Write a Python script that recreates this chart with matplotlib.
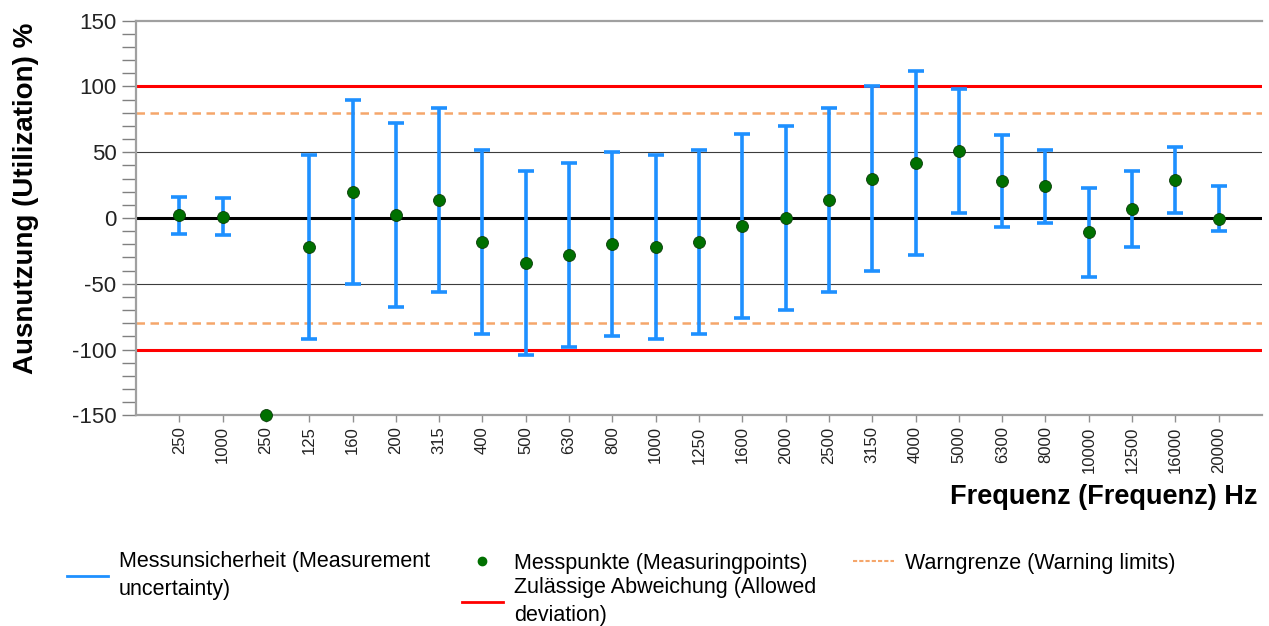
"""
Utilization chart: measuring points with uncertainty bars per frequency band,
allowed deviation and warning limits.
"""

import matplotlib
matplotlib.use("Agg")
import matplotlib.pyplot as plt
from matplotlib.lines import Line2D
from matplotlib.ticker import MultipleLocator
import numpy as np

plt.rcParams['font.family'] = ['Liberation Sans', 'DejaVu Sans']
plt.rcParams['axes.unicode_minus'] = False


# ------------------------------------------------------------------------

FREQ_LABELS = ['250', '1000', '250', '125', '160', '200', '315', '400', '500',
               '630', '800', '1000', '1250', '1600', '2000', '2500', '3150',
               '4000', '5000', '6300', '8000', '10000', '12500', '16000', '20000']

MEASURED = [2, 1, -150, -22, 20, 2, 14, -18, -34, -28, -20, -22, -18, -6, 0,
            14, 30, 42, 51, 28, 24, -11, 7, 29, -1]

UNC_LOWER = [-12, -13, np.nan, -92, -50, -68, -56, -88, -104, -98, -90, -92, -88,
             -76, -70, -56, -40, -28, 4, -7, -4, -45, -22, 4, -10]
UNC_UPPER = [16, 15, np.nan, 48, 90, 72, 84, 52, 36, 42, 50, 48, 52,
             64, 70, 84, 100, 112, 98, 63, 52, 23, 36, 54, 24]

ALLOWED_LIMIT = 100
WARNING_LIMIT = 80

BLUE = '#1E90FF'
GREEN = '#007000'
RED = '#FF0000'
ORANGE = '#F5A66B'
GRAY = '#A0A0A0'


def plot_utilization(write_path: str = "out.png") -> None:
    """
    Draw the chart and save it.
    """
    fig = plt.figure(figsize=(12.69, 6.26), dpi=100)
    ax = fig.add_axes([136 / 1269, 1 - 415.3 / 626, 1126 / 1269, 394.6 / 626])

    x = np.arange(len(FREQ_LABELS))
    measured = np.array(MEASURED, dtype=float)
    lower = np.array(UNC_LOWER, dtype=float)
    upper = np.array(UNC_UPPER, dtype=float)
    has_bar = ~np.isnan(lower)

    # reference lines
    for y in (-50, 50):
        ax.axhline(y, color='#3c3c3c', lw=0.8, zorder=1)
    ax.axhline(0, color='black', lw=2.2, zorder=1)
    for sign in (-1, 1):
        ax.axhline(sign * ALLOWED_LIMIT, color=RED, lw=2.2, zorder=2)
        ax.axhline(sign * WARNING_LIMIT, color=ORANGE, lw=1.8,
                   dashes=(3.4, 2.2), zorder=2)

    yerr = [measured[has_bar] - lower[has_bar], upper[has_bar] - measured[has_bar]]
    ax.errorbar(x[has_bar], measured[has_bar], yerr=yerr, fmt='none',
                ecolor=BLUE, elinewidth=2.6, capsize=6, capthick=2.6, zorder=3)
    ax.plot(x, measured, 'o', color=GREEN, markeredgecolor='#0a3d0a',
            markeredgewidth=0.6, markersize=8.6, clip_on=False, zorder=5)

    ax.set_xlim(-1, len(FREQ_LABELS))
    ax.set_ylim(-150, 150)
    ax.set_xticks(x)
    ax.set_xticklabels(FREQ_LABELS, rotation=90, fontsize=12)
    ax.yaxis.set_major_locator(MultipleLocator(50))
    ax.yaxis.set_minor_locator(MultipleLocator(10))
    ax.tick_params(axis='y', which='both', direction='out', length=10,
                   width=1, color='#808080', pad=4, labelsize=16,
                   labelcolor='#222222')
    ax.tick_params(axis='x', direction='out', length=5, width=1,
                   color='#909090', pad=3, labelcolor='#222222')

    ax.spines['right'].set_visible(False)
    for side in ('left', 'bottom', 'top'):
        ax.spines[side].set_color(GRAY)
        ax.spines[side].set_linewidth(1.6)

    ax.set_ylabel('Ausnutzung (Utilization) %', fontsize=20, fontweight='bold',
                  va='center')
    ax.yaxis.set_label_coords(-0.0978, 0.551)
    ax.set_xlabel('Frequenz (Frequenz) Hz', fontsize=19.5, fontweight='bold',
                  ha='right', va='center')
    ax.xaxis.set_label_coords(0.9956, -0.207)

    # legend, three columns below the plot
    common = dict(frameon=False, loc='upper left', fontsize=15.5, borderpad=0,
                  borderaxespad=0, handlelength=1.9, handletextpad=0.5,
                  labelspacing=0.15)
    legends = [
        fig.legend([Line2D([], [], color=BLUE, lw=2)],
                   ['Messunsicherheit (Measurement\nuncertainty)'],
                   bbox_to_anchor=(67 / 1269, 1 - 551 / 626), **common),
        fig.legend([Line2D([], [], ls='none', marker='o', color=GREEN,
                           markersize=6),
                    Line2D([], [], color=RED, lw=2)],
                   ['Messpunkte (Measuringpoints)',
                    'Zulässige Abweichung (Allowed\ndeviation)'],
                   bbox_to_anchor=(462 / 1269, 1 - 553 / 626), **common),
        fig.legend([Line2D([], [], color=ORANGE, lw=1.5, dashes=(2, 1))],
                   ['Warngrenze (Warning limits)'],
                   bbox_to_anchor=(853 / 1269, 1 - 553 / 626), **common),
    ]
    for leg in legends:
        for text in leg.get_texts():
            text.set_linespacing(1.45)

    plt.savefig(write_path, dpi=100)


# ------------------------------------------------------------------------

if __name__ == "__main__":
    plot_utilization()
